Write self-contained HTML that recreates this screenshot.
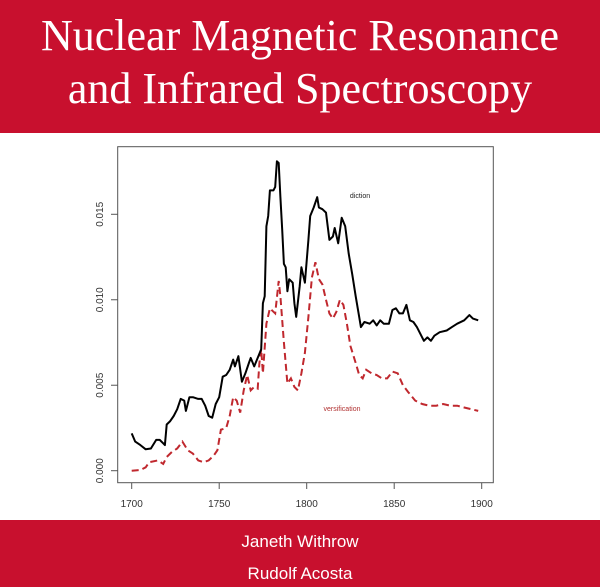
<!DOCTYPE html>
<html><head><meta charset="utf-8"><style>
body{margin:0;width:600px;height:587px;overflow:hidden;background:#fff;position:relative;font-family:"Liberation Sans",sans-serif}
.band{position:absolute;left:0;width:600px;background:#c8102e}
.t{position:absolute;left:0;width:600px;text-align:center;color:#fff;font-family:"Liberation Serif",serif;font-size:44px;line-height:1}
.a{position:absolute;left:0;width:600px;text-align:center;color:#fff;font-size:17px}
</style></head><body>
<div class="band" style="top:0;height:133px"></div>
<div class="t" style="top:14px">Nuclear Magnetic Resonance</div>
<div class="t" style="top:67px">and Infrared Spectroscopy</div>
<div class="band" style="top:520px;height:67px"></div>
<div class="a" style="top:532px">Janeth Withrow</div>
<div class="a" style="top:564px">Rudolf Acosta</div>
<svg id="chart" width="600" height="587" style="position:absolute;left:0;top:0"></svg>
<script>
const dictionYears=[1700,1702,1705,1708,1711,1714,1716,1718,1719,1720,1722,1724,1726,1728,1730,1731,1733,1735,1738,1740,1742,1744,1746,1748,1750,1752,1754,1756,1758,1759,1761,1763,1765,1767,1768,1770,1772,1774,1775,1776,1777,1778,1779,1781,1782,1783,1784,1785,1786,1787,1788,1789,1790,1792,1793,1794,1796,1797,1799,1801,1802,1804,1806,1807,1809,1811,1812,1813,1815,1816,1818,1820,1822,1824,1826,1828,1830,1831,1833,1836,1838,1840,1842,1844,1847,1849,1851,1853,1855,1857,1859,1861,1863,1865,1867,1869,1871,1873,1876,1880,1883,1886,1890,1893,1895,1898];
const dictionValues=[0.00218,0.0017,0.0015,0.00125,0.0013,0.0018,0.0018,0.0016,0.0015,0.0027,0.0029,0.0032,0.0036,0.0042,0.0041,0.0035,0.0043,0.0043,0.0042,0.0042,0.0038,0.0032,0.0031,0.0039,0.0043,0.0055,0.0056,0.0059,0.0065,0.0061,0.0067,0.0052,0.0057,0.0063,0.0066,0.0061,0.0066,0.0071,0.0098,0.0102,0.0143,0.0149,0.0164,0.0164,0.0166,0.0181,0.018,0.016,0.0141,0.0121,0.0119,0.0105,0.0112,0.011,0.0098,0.009,0.0108,0.0119,0.011,0.0135,0.0149,0.0154,0.016,0.0154,0.0153,0.0151,0.0143,0.0135,0.0137,0.0142,0.0133,0.0148,0.0143,0.0127,0.0115,0.0102,0.009,0.0084,0.0087,0.0086,0.0088,0.0085,0.0088,0.0086,0.0086,0.0094,0.0095,0.0092,0.0092,0.0097,0.0088,0.0087,0.0084,0.008,0.0076,0.0078,0.0076,0.0079,0.0081,0.0082,0.0084,0.0086,0.0088,0.0091,0.0089,0.0088];
const versYears=[1700,1705,1708,1710,1715,1718,1720,1723,1726,1729,1732,1735,1738,1741,1744,1747,1749,1751,1754,1756,1758,1760,1762,1764,1766,1768,1770,1772,1773,1774,1775,1777,1779,1781,1782,1784,1785,1787,1789,1791,1793,1795,1797,1799,1801,1803,1805,1807,1809,1811,1813,1815,1817,1819,1821,1823,1825,1828,1830,1832,1834,1837,1840,1843,1846,1849,1852,1855,1858,1862,1866,1870,1874,1878,1882,1886,1890,1894,1898];
const versValues=[0,0.00004,0.0002,0.0005,0.0006,0.0004,0.0008,0.0011,0.0013,0.0017,0.0012,0.001,0.0006,0.0005,0.0006,0.0009,0.0012,0.0024,0.0025,0.0032,0.0043,0.0041,0.0034,0.0047,0.0056,0.0047,0.0049,0.0048,0.0063,0.0071,0.0057,0.0086,0.0095,0.0093,0.0092,0.0111,0.0102,0.0075,0.0051,0.0054,0.0049,0.0047,0.0057,0.0069,0.009,0.0113,0.0122,0.0112,0.0109,0.01,0.0092,0.0089,0.0093,0.01,0.0097,0.0086,0.0073,0.0063,0.0056,0.0054,0.0059,0.0057,0.0056,0.0054,0.0054,0.0058,0.0057,0.005,0.0046,0.0041,0.0039,0.0038,0.0038,0.0039,0.0038,0.0038,0.0037,0.0036,0.0035];
const xTicks=[1700,1750,1800,1850,1900];
const yTicks=[0,0.005,0.01,0.015];
const yTickLabels=["0.000","0.005","0.010","0.015"];
const NS="http://www.w3.org/2000/svg";
const svg=document.getElementById('chart');
const X=v=>131.7+(v-1700)/200*350;
const Y=v=>470.7-v/0.005*85.47;
function mk(tag,at){const e=document.createElementNS(NS,tag);for(const k in at)e.setAttribute(k,at[k]);svg.appendChild(e);return e;}
const box=mk('rect',{x:117.7,y:146.7,width:375.6,height:336,fill:'none',stroke:'#555','stroke-width':1});


xTicks.forEach(t=>{
 const l=mk('line',{x1:X(t),x2:X(t),y1:482.7,y2:489,stroke:'#555'});
 
 
 const tx=mk('text',{x:X(t),y:507,'text-anchor':'middle','font-size':10,fill:'#333','font-family':'Liberation Sans, sans-serif'});
 tx.textContent=t;
 
 
});
yTicks.forEach((t,i)=>{
 const l=mk('line',{x1:111,x2:117.7,y1:Y(t),y2:Y(t),stroke:'#555'});
 
 
 const tx=mk('text',{x:0,y:0,'text-anchor':'middle','font-size':10,fill:'#333','font-family':'Liberation Sans, sans-serif',transform:`translate(103,${Y(t)}) rotate(-90)`});
 tx.textContent=yTickLabels[i];
 
 
});
const pd=(xs,ys)=>xs.map((x,i)=>(i?'L':'M')+X(x).toFixed(1)+','+Y(ys[i]).toFixed(1)).join('');
const vl=mk('path',{d:pd(versYears,versValues),fill:'none',stroke:'#c0282e','stroke-width':2,'stroke-dasharray':'7,4'});


const dl=mk('path',{d:pd(dictionYears,dictionValues),fill:'none',stroke:'#000','stroke-width':2,'stroke-linejoin':'round'});


const l1=mk('text',{x:360,y:198,'text-anchor':'middle','font-size':7,fill:'#222','font-family':'Liberation Sans, sans-serif'});
l1.textContent='diction';


const l2=mk('text',{x:342,y:411,'text-anchor':'middle','font-size':7,fill:'#b03030','font-family':'Liberation Sans, sans-serif'});
l2.textContent='versification';


</script>
</body></html>
